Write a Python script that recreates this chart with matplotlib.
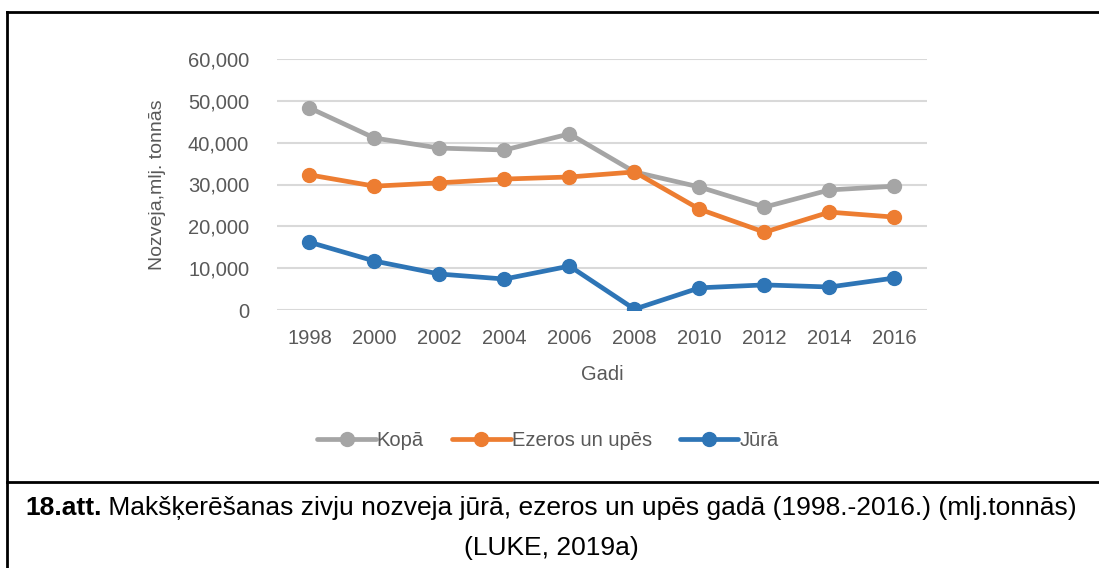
import numpy as np
import matplotlib.pyplot as plt
from matplotlib.ticker import FuncFormatter

plt.rcParams['font.family'] = ['Liberation Sans', 'DejaVu Sans']

years = [1998, 2000, 2002, 2004, 2006, 2008, 2010, 2012, 2014, 2016]
kopa = [48300, 41100, 38700, 38250, 42100, 33000, 29400, 24600, 28700, 29600]
ezeros = [32300, 29600, 30400, 31300, 31800, 33000, 24100, 18600, 23400, 22200]
jura = [16200, 11700, 8600, 7400, 10500, 200, 5300, 6000, 5500, 7650]
labels = ["Kopā", "Ezeros un upēs", "Jūrā"]
colors = ["#A5A5A5", "#ED7D31", "#2E75B6"]

W, H = 1099, 568
fig = plt.figure(figsize=(W / 100, H / 100), dpi=100)

# pixel coords -> figure fraction
def fx(x): return x / W
def fy(y): return 1 - y / H
frame = dict(color="black", lw=2, transform=fig.transFigure)
fig.add_artist(plt.Line2D([fx(7), fx(7)], [fy(12), 0], **frame))
fig.add_artist(plt.Line2D([fx(7), 1], [fy(12), fy(12)], **frame))
fig.add_artist(plt.Line2D([fx(7), 1], [fy(482), fy(482)], **frame))

ax = fig.add_axes([fx(277), fy(310), fx(927) - fx(277), (310 - 59) / H])
for vals, lab, c in zip([kopa, ezeros, jura], labels, colors):
    ax.plot(years, vals, color=c, lw=3.4, marker="o", ms=10, label=lab,
            solid_capstyle="round")

ax.set_xlim(1997, 2017)
ax.set_ylim(0, 60000)
ax.set_yticks(np.arange(0, 60001, 10000))
ax.set_xticks(years)
ax.yaxis.set_major_formatter(FuncFormatter(lambda v, p: f"{int(v):,}"))
ax.grid(axis="y", color="#D9D9D9", lw=1.5)
ax.set_axisbelow(True)
for s in ax.spines.values():
    s.set_visible(False)
ax.tick_params(length=0, labelsize=14.5, labelcolor="#595959", pad=14)
ax.tick_params(axis="y", pad=20)
ax.set_xlabel("Gadi", fontsize=14.5, color="#595959", labelpad=12)
ax.set_ylabel("Nozveja,mlj. tonnās", fontsize=14, color="#595959", labelpad=16)

ax.legend(loc="center", bbox_to_anchor=(fx(548), fy(441), 0, 0),
          bbox_transform=fig.transFigure, ncol=3, frameon=False,
          fontsize=14.5, labelcolor="#595959", handlelength=2.9,
          handletextpad=0.05, columnspacing=1.4)

# caption: bold number + normal text, centred together
fig.canvas.draw()
r = fig.canvas.get_renderer()
cap_bold = "18.att."
cap_rest = " Makšķerēšanas zivju nozveja jūrā, ezeros un upēs gadā (1998.-2016.) (mlj.tonnās)"
t1 = fig.text(0, fy(508), cap_bold, ha="left", va="center", fontsize=19, fontweight="bold")
t2 = fig.text(0, fy(508), cap_rest, ha="left", va="center", fontsize=19)
w1 = t1.get_window_extent(r).width
w2 = t2.get_window_extent(r).width
x0 = (551 - (w1 + w2) / 2)
t1.set_x(fx(x0))
t2.set_x(fx(x0 + w1))
fig.text(fx(551), fy(548), "(LUKE, 2019a)", ha="center", va="center", fontsize=19)

fig.savefig("out.png", dpi=100)
